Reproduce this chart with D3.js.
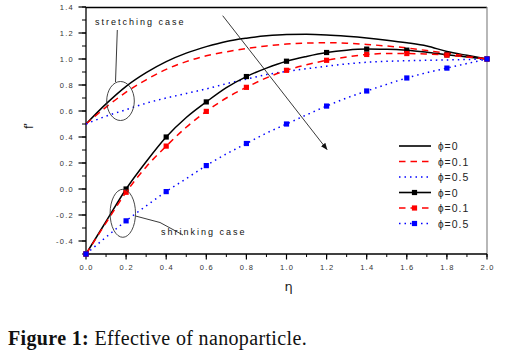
<!DOCTYPE html>
<html>
<head>
<meta charset="utf-8">
<script src="https://cdn.jsdelivr.net/npm/d3@7/dist/d3.min.js"></script>
<style>
    body { margin: 0; background: #fff; }
    #chart { width: 512px; height: 351px; }
    .tick-label { font-family: Arial, "Liberation Sans", sans-serif; font-size: 7.5px; fill: #333; letter-spacing: 1.3px; }
</style>
</head>
<body>
<div id="chart"></div>
<script>
// Data
let etaGrid = [0, 0.1, 0.2, 0.3, 0.4, 0.5, 0.6, 0.7, 0.8, 0.9, 1.0, 1.1, 1.2, 1.3, 1.4, 1.5, 1.6, 1.7, 1.8, 1.9, 2.0];

// stretching case (lines only)
let stretchPhi0  = [0.5, 0.655, 0.79, 0.895, 0.98, 1.045, 1.095, 1.135, 1.16, 1.178, 1.188, 1.19, 1.185, 1.175, 1.162, 1.145, 1.125, 1.1, 1.058, 1.028, 1.0];
let stretchPhi01 = [0.5, 0.63, 0.745, 0.84, 0.92, 0.98, 1.025, 1.055, 1.08, 1.1, 1.115, 1.122, 1.125, 1.122, 1.112, 1.1, 1.085, 1.065, 1.045, 1.022, 1.0];
let stretchPhi05 = [0.5, 0.56, 0.61, 0.66, 0.70, 0.735, 0.77, 0.81, 0.845, 0.88, 0.905, 0.925, 0.945, 0.962, 0.975, 0.982, 0.987, 0.99, 0.993, 0.996, 1.0];

// shrinking case (lines + squares every 0.2)
let shrinkPhi0  = [-0.5, -0.25, 0.0, 0.21, 0.40, 0.55, 0.67, 0.78, 0.865, 0.93, 0.983, 1.02, 1.05, 1.068, 1.076, 1.075, 1.068, 1.052, 1.032, 1.015, 1.0];
let shrinkPhi01 = [-0.5, -0.26, -0.025, 0.17, 0.33, 0.475, 0.597, 0.70, 0.782, 0.855, 0.913, 0.955, 0.99, 1.015, 1.035, 1.042, 1.042, 1.038, 1.03, 1.015, 1.0];
let shrinkPhi05 = [-0.5, -0.37, -0.245, -0.13, -0.02, 0.08, 0.18, 0.27, 0.35, 0.43, 0.50, 0.57, 0.638, 0.70, 0.754, 0.805, 0.854, 0.895, 0.93, 0.965, 1.0];

let phiLabels = ["0", "0.1", "0.5"];
let xTicks = [0, 0.2, 0.4, 0.6, 0.8, 1.0, 1.2, 1.4, 1.6, 1.8, 2.0];
let yTicks = [-0.4, -0.2, 0.0, 0.2, 0.4, 0.6, 0.8, 1.0, 1.2, 1.4];

class visFlow {

    constructor(parentElement) {
        this.parentElement = parentElement;
        this.initVis();
    }

    initVis() {
        let vis = this;

        vis.margin = {top: 7, right: 25, bottom: 97, left: 86};
        vis.width = 487 - vis.margin.left;
        vis.height = 254 - vis.margin.top;

        vis.root = d3.select("#" + vis.parentElement).append("svg")
            .attr("width", 512)
            .attr("height", 351);

        vis.svg = vis.root.append("g")
            .attr("transform", `translate(${vis.margin.left}, ${vis.margin.top})`);

        vis.x = d3.scaleLinear().domain([0, 2]).range([0, vis.width]);
        vis.y = d3.scaleLinear().domain([-0.5, 1.4]).range([vis.height, 0]);

        vis.colors = {"0": "#000000", "0.1": "#ff0000", "0.5": "#0000ff"};
        vis.dash = {"0": null, "0.1": "6.5,5", "0.5": "1.5,4"};

        vis.drawAxes();
        vis.drawCurves();
        vis.drawLegend();
        vis.drawNotes();
    }

    drawAxes() {
        let vis = this;

        // frame: top black, right grey
        vis.svg.append("line")
            .attr("x1", 0).attr("x2", vis.width).attr("y1", 0.5).attr("y2", 0.5)
            .attr("stroke", "#000").attr("stroke-width", 1.3);
        vis.svg.append("line")
            .attr("x1", vis.width).attr("x2", vis.width).attr("y1", 0).attr("y2", vis.height)
            .attr("stroke", "#888").attr("stroke-width", 1.2);

        let xMinor = d3.range(0, 2.001, 0.1);
        let yMinor = d3.range(-0.5, 1.401, 0.1);

        // bottom axis
        let xAxis = vis.svg.append("g").attr("transform", `translate(0, ${vis.height})`);
        xAxis.append("line").attr("x1", 0).attr("x2", vis.width)
            .attr("stroke", "#000").attr("stroke-width", 1.3);
        xAxis.selectAll(".xminor").data(xMinor).enter().append("line")
            .attr("x1", d => vis.x(d)).attr("x2", d => vis.x(d))
            .attr("y1", 0).attr("y2", 3)
            .attr("stroke", "#000").attr("stroke-width", 1);
        xAxis.selectAll(".xmajor").data(xTicks).enter().append("line")
            .attr("x1", d => vis.x(d)).attr("x2", d => vis.x(d))
            .attr("y1", 0).attr("y2", 5.5)
            .attr("stroke", "#000").attr("stroke-width", 1.2);
        xAxis.selectAll(".xlab").data(xTicks).enter().append("text")
            .attr("class", "tick-label")
            .attr("x", d => vis.x(d) + 0.6)
            .attr("y", 15.5)
            .attr("text-anchor", "middle")
            .text(d => d3.format(".1f")(d));

        // left axis
        let yAxis = vis.svg.append("g");
        yAxis.append("line").attr("y1", 0).attr("y2", vis.height)
            .attr("stroke", "#000").attr("stroke-width", 1.3);
        yAxis.selectAll(".yminor").data(yMinor).enter().append("line")
            .attr("y1", d => vis.y(d)).attr("y2", d => vis.y(d))
            .attr("x1", 0).attr("x2", -4)
            .attr("stroke", "#000").attr("stroke-width", 1);
        yAxis.selectAll(".ymajor").data(yTicks).enter().append("line")
            .attr("y1", d => vis.y(d)).attr("y2", d => vis.y(d))
            .attr("x1", 0).attr("x2", -7.5)
            .attr("stroke", "#000").attr("stroke-width", 1.2);
        yAxis.selectAll(".ylab").data(yTicks).enter().append("text")
            .attr("class", "tick-label")
            .attr("x", -12)
            .attr("y", d => vis.y(d) + 2.7)
            .attr("text-anchor", "end")
            .text(d => d3.format(".1f")(d).replace("−", "-"));

        // axis titles
        vis.root.append("text")
            .attr("transform", "translate(33, 126) rotate(-90)")
            .attr("text-anchor", "middle")
            .style("font-family", "Arial, sans-serif")
            .style("font-size", "12px")
            .attr("fill", "#222")
            .text("f'");

        vis.root.append("text")
            .attr("x", 288.5).attr("y", 291)
            .attr("text-anchor", "middle")
            .style("font-family", "'DejaVu Sans', sans-serif")
            .style("font-size", "13px")
            .attr("fill", "#222")
            .text("η");

        vis.root.append("text")
            .attr("x", 8).attr("y", 345)
            .style("font-family", "'Liberation Serif', serif")
            .style("font-size", "20px")
            .style("letter-spacing", "0.35px")
            .attr("fill", "#111")
            .call(t => {
                t.append("tspan").style("font-weight", "bold").text("Figure 1:");
                t.append("tspan").text(" Effective of nanoparticle.");
            });
    }

    drawCurves() {
        let vis = this;

        vis.line = d3.line()
            .x((d, i) => vis.x(etaGrid[i]))
            .y(d => vis.y(d))
            .curve(d3.curveMonotoneX);

        vis.stretchSeries = [stretchPhi0, stretchPhi01, stretchPhi05];
        vis.shrinkSeries = [shrinkPhi0, shrinkPhi01, shrinkPhi05];

        vis.stretchSeries.concat(vis.shrinkSeries).forEach(function (series, k) {
            let phi = phiLabels[k % 3];
            vis.svg.append("path")
                .datum(series)
                .attr("d", vis.line)
                .attr("fill", "none")
                .attr("stroke", vis.colors[phi])
                .attr("stroke-width", 1.5)
                .attr("stroke-dasharray", vis.dash[phi]);
        });

        // squares on the shrinking branch
        vis.shrinkSeries.forEach(function (series, k) {
            let phi = phiLabels[k];
            let pts = series.map((v, i) => ({eta: etaGrid[i], v: v})).filter((d, i) => i % 2 === 0);
            vis.svg.selectAll(".sq" + k)
                .data(pts)
                .enter()
                .append("rect")
                .attr("x", d => vis.x(d.eta) - 2.6)
                .attr("y", d => vis.y(d.v) - 2.6)
                .attr("width", 5.2)
                .attr("height", 5.2)
                .attr("fill", vis.colors[phi]);
        });
    }

    drawLegend() {
        let vis = this;

        let entries = [];
        phiLabels.forEach(p => entries.push({phi: p, square: false}));
        phiLabels.forEach(p => entries.push({phi: p, square: true}));

        let leg = vis.root.append("g");
        entries.forEach(function (d, i) {
            let y = 146 + i * 15.5;
            leg.append("line")
                .attr("x1", 399).attr("x2", 431).attr("y1", y).attr("y2", y)
                .attr("stroke", vis.colors[d.phi])
                .attr("stroke-width", 1.6)
                .attr("stroke-dasharray", vis.dash[d.phi]);
            if (d.square) {
                leg.append("rect")
                    .attr("x", 414.5 - 2.6).attr("y", y - 2.6)
                    .attr("width", 5.2).attr("height", 5.2)
                    .attr("fill", vis.colors[d.phi]);
            }
            let t = leg.append("text")
                .attr("x", 438).attr("y", y + 4)
                .style("font-family", "Arial, sans-serif")
                .style("font-size", "10.5px")
                .style("letter-spacing", "1px")
                .attr("fill", "#222");
            t.append("tspan").style("font-size", "10px").text("ϕ");
            t.append("tspan").text("=" + d.phi);
        });
    }

    drawNotes() {
        let vis = this;
        let noteFont = "Arial, sans-serif";

        // stretching case label + ellipse
        vis.root.append("text")
            .attr("x", 95).attr("y", 25)
            .style("font-family", noteFont)
            .style("font-size", "9px")
            .style("letter-spacing", "2px")
            .attr("fill", "#111")
            .text("stretching case");
        vis.root.append("line")
            .attr("x1", 117.3).attr("y1", 30).attr("x2", 115.5).attr("y2", 82)
            .attr("stroke", "#222").attr("stroke-width", 0.9);
        vis.root.append("ellipse")
            .attr("cx", 120.5).attr("cy", 101).attr("rx", 13.8).attr("ry", 19.5)
            .attr("fill", "none").attr("stroke", "#333").attr("stroke-width", 0.9);

        // shrinking case label + ellipse
        vis.root.append("text")
            .attr("x", 161).attr("y", 235)
            .style("font-family", noteFont)
            .style("font-size", "9px")
            .style("letter-spacing", "2px")
            .attr("fill", "#111")
            .text("shrinking case");
        vis.root.append("polyline")
            .attr("points", "135.5,216 160,222.5 183,235")
            .attr("fill", "none").attr("stroke", "#222").attr("stroke-width", 0.9);
        vis.root.append("ellipse")
            .attr("cx", 122.8).attr("cy", 213.3).attr("rx", 12.7).attr("ry", 24)
            .attr("fill", "none").attr("stroke", "#333").attr("stroke-width", 0.9);

        // arrow
        vis.root.append("defs").append("marker")
            .attr("id", "arrowhead")
            .attr("viewBox", "0 0 10 10")
            .attr("refX", 9).attr("refY", 5)
            .attr("markerWidth", 7).attr("markerHeight", 7)
            .attr("markerUnits", "userSpaceOnUse")
            .attr("orient", "auto")
            .append("path")
            .attr("d", "M0,1 L10,5 L0,9 Z")
            .attr("fill", "#111");
        vis.root.append("line")
            .attr("x1", 222.7).attr("y1", 15.7).attr("x2", 327).attr("y2", 149.5)
            .attr("stroke", "#222").attr("stroke-width", 0.9)
            .attr("marker-end", "url(#arrowhead)");
    }
}

new visFlow("chart");
</script>
</body>
</html>
